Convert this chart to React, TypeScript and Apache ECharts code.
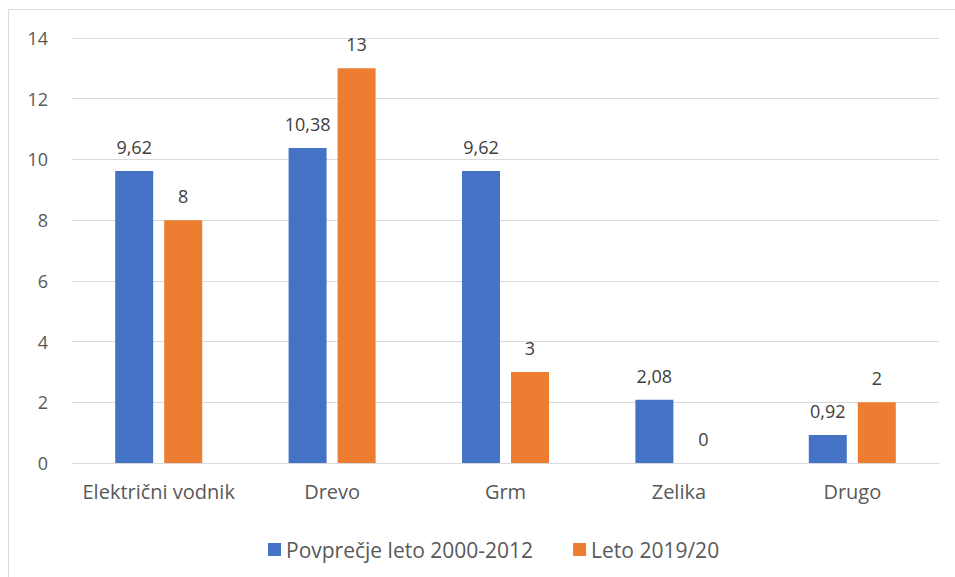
import React, { useEffect, useRef } from "react";
import * as echarts from "echarts";

const categories = ["Električni vodnik", "Drevo", "Grm", "Zelika", "Drugo"];
const seriesNames = ["Povprečje leto 2000-2012", "Leto 2019/20"];
const avgValues = [9.62, 10.38, 9.62, 2.08, 0.92];
const seasonValues = [8, 13, 3, 0, 2];

const FONT = "'Open Sans', 'Noto Sans', sans-serif";
const TEXT = "#595959";

export default function App() {
  const ref = useRef<HTMLDivElement>(null);
  useEffect(() => {
    if (!ref.current) return;
    const chart = echarts.init(ref.current, undefined, { renderer: "svg" });
    const fmt = (p: any) => String(p.value).replace(".", ",");
    const label = {
      show: true,
      position: "top",
      distance: 15,
      color: "#404040",
      fontSize: 18,
      formatter: fmt,
      fontFamily: FONT,
    };
    chart.setOption({
      animation: false,
      textStyle: { fontFamily: FONT },
      graphic: [
        {
          type: "rect",
          shape: { x: 8.5, y: 9.5, width: 1000, height: 700 },
          style: { fill: "none", stroke: "#D9D9D9", lineWidth: 1 },
          silent: true,
        },
      ],
      grid: { left: 72, right: 16, top: 38, bottom: 114, containLabel: false },
      legend: {
        top: 534,
        left: 263,
        itemWidth: 13,
        itemHeight: 13,
        itemGap: 40,
        icon: "rect",
        textStyle: { color: TEXT, fontSize: 21, fontFamily: FONT },
        data: seriesNames,
      },
      xAxis: {
        type: "category",
        data: categories,
        axisLine: { lineStyle: { color: "#D9D9D9" } },
        axisTick: { show: false },
        axisLabel: { color: TEXT, fontSize: 20, margin: 18, interval: 0, fontFamily: FONT },
      },
      yAxis: {
        type: "value",
        min: 0,
        max: 14,
        interval: 2,
        axisLine: { show: false },
        axisTick: { show: false },
        splitLine: { lineStyle: { color: "#D9D9D9" } },
        axisLabel: { color: TEXT, fontSize: 18, margin: 24, fontFamily: FONT },
      },
      series: [
        {
          name: seriesNames[0],
          type: "bar",
          data: avgValues,
          barWidth: 38,
          barGap: "29%",
          itemStyle: { color: "#4472C4" },
          label,
        },
        {
          name: seriesNames[1],
          type: "bar",
          data: seasonValues,
          barWidth: 38,
          barGap: "29%",
          itemStyle: { color: "#ED7D31" },
          label,
        },
      ],
    });
    return () => chart.dispose();
  }, []);
  return (
    <div
      ref={ref}
      style={{ position: "fixed", left: 0, top: 0, width: 955, height: 577, background: "#fff" }}
    />
  );
}
